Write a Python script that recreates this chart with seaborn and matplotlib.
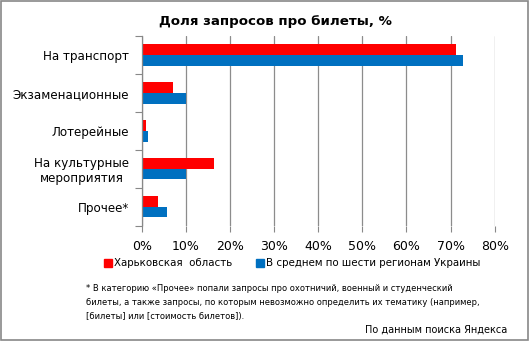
import matplotlib
matplotlib.use("Agg")
import matplotlib.pyplot as plt
import seaborn as sns
import pandas as pd
from matplotlib.patches import Rectangle
from matplotlib.lines import Line2D

categories = ["На транспорт", "Экзаменационные", "Лотерейные", "На культурные\nмероприятия", "Прочее*"]
kharkiv = [71.3, 7.2, 0.9, 16.3, 3.6]
average = [72.9, 10.0, 1.4, 10.0, 5.7]
series_names = ["Харьковская  область", "В среднем по шести регионам Украины"]
colors = ["#FF0000", "#0070C0"]
xticks = [0, 10, 20, 30, 40, 50, 60, 70, 80]

df = pd.DataFrame({
    "cat": categories * 2,
    "val": kharkiv + average,
    "series": [series_names[0]] * len(categories) + [series_names[1]] * len(categories),
})

sns.set_style("white")
plt.rcParams["font.family"] = ["DejaVu Sans"]
plt.rcParams["text.color"] = "black"
plt.rcParams["xtick.color"] = "black"
plt.rcParams["ytick.color"] = "black"

fig = plt.figure(figsize=(5.30, 3.41), dpi=100)
ax = fig.add_axes([0.2674, 0.338, 0.666, 0.5564])

sns.barplot(data=df, y="cat", x="val", hue="series", order=categories,
            hue_order=series_names, palette=colors, orient="h", width=0.56,
            saturation=1, ax=ax, legend=False, linewidth=0)

ax.set_xlim(0, 80)
ax.set_ylim(4.5, -0.5)
ax.set_xticks(xticks)
ax.set_xticklabels([f"{v}%" for v in xticks], fontsize=9, color="black")
ax.set_yticks([i - 0.5 for i in range(len(categories) + 1)])
ax.set_yticklabels([])
ax.set_yticks(range(len(categories)), minor=True)
ax.set_yticklabels(categories, minor=True, fontsize=8.6, ha="right",
                   multialignment="center", color="black")
ax.tick_params(axis="y", which="minor", length=0, pad=9)
ax.tick_params(axis="y", which="major", length=5, color="#888888", direction="out", left=True)
ax.tick_params(axis="x", length=4, color="#888888", direction="out", bottom=True, pad=6)
ax.set_xlabel("")
ax.set_ylabel("")
ax.grid(axis="x", color="#8C8C8C", linewidth=0.9)
ax.set_axisbelow(True)
for s in ["top", "right", "bottom"]:
    ax.spines[s].set_visible(False)
ax.spines["left"].set_color("#888888")
ax.spines["left"].set_linewidth(0.9)

fig.text(0.52, 0.938, "Доля запросов про билеты, %", ha="center", va="center",
         fontsize=9.6, fontweight="heavy", color="black")

handles = [Line2D([0], [0], marker="s", linestyle="", markersize=5.5,
                  markerfacecolor=c, markeredgecolor=c) for c in colors]
fig.legend(handles, series_names, loc="center", bbox_to_anchor=(0.551, 0.228),
           ncol=2, frameon=False, fontsize=7.4, handletextpad=0.15,
           columnspacing=2.3, handlelength=0.8)

foot = ("* В категорию «Прочее» попали запросы про охотничий, военный и студенческий\n"
        "билеты, а также запросы, по которым невозможно определить их тематику (например,\n"
        "[билеты] или [стоимость билетов]).")
fig.text(0.163, 0.168, foot, ha="left", va="top", fontsize=6.05, linespacing=1.75)
fig.text(0.958, 0.032, "По данным поиска Яндекса", ha="right", va="center", fontsize=7)

fig.add_artist(Rectangle((0.002, 0.003), 0.995, 0.993, transform=fig.transFigure,
                         fill=False, edgecolor="#888888", linewidth=1.2))

fig.savefig("out.png", dpi=100)
